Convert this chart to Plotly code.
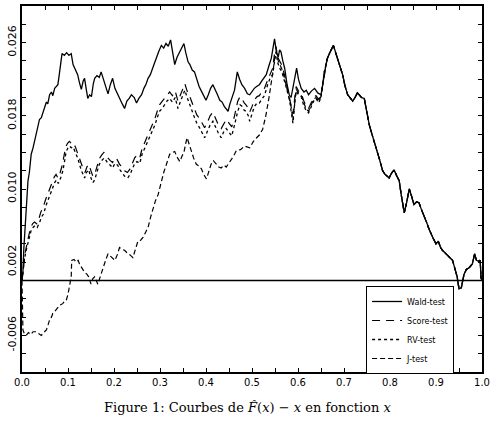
import plotly.graph_objects as go

# ---------------- data ----------------
wald_x = [0.000,0.002,0.004,0.006,0.009,0.013,0.016,0.020,0.024,0.027,0.031,0.035,0.038,0.042,0.046,0.049,
          0.053,0.056,0.060,0.064,0.067,0.071,0.075,0.078,0.081,0.084,0.087,0.092,0.097,0.102,0.107,0.111,
          0.116,0.121,0.125,0.129,0.133,0.136,0.140,0.143,0.147,0.151,0.155,0.158,0.163,0.168,0.172,0.176,
          0.180,0.184,0.187,0.192,0.197,0.202,0.208,0.213,0.218,0.223,0.228,0.233,0.238,0.244,0.249,0.254,
          0.260,0.265,0.270,0.274,0.279,0.284,0.288,0.292,0.297,0.303,0.308,0.313,0.318,0.323,0.327,0.332,
          0.337,0.343,0.347,0.352,0.356,0.361,0.365,0.370,0.375,0.380,0.385,0.390,0.395,0.400,0.405,0.410,
          0.415,0.420,0.425,0.430,0.435,0.440,0.444,0.448,0.452,0.456,0.462,0.465,0.468,0.473,0.478,0.484,
          0.490,0.495,0.500,0.505,0.510,0.516,0.521,0.526,0.531,0.537,0.542,0.546,0.549,0.553,0.557,0.560,
          0.563,0.567,0.571,0.576,0.581,0.585,0.590,0.594,0.597,0.601,0.607,0.613,0.618,0.623,0.629,0.636,
          0.643,0.650,0.654,0.657,0.661,0.664,0.668,0.672,0.677,0.681,0.686,0.690,0.697,0.702,0.708,0.713,
          0.719,0.724,0.729,0.733,0.738,0.744,0.748,0.751,0.755,0.759,0.764,0.768,0.773,0.778,0.784,0.789,
          0.794,0.798,0.803,0.809,0.814,0.820,0.824,0.828,0.831,0.836,0.842,0.847,0.852,0.858,0.863,0.868,
          0.874,0.880,0.885,0.889,0.894,0.900,0.905,0.910,0.914,0.920,0.925,0.930,0.936,0.941,0.946,0.950,
          0.955,0.961,0.966,0.972,0.979,0.984,0.988,0.993,0.996,0.998,1.000]
wald_y = [0.0000,0.0010,0.0035,0.0054,0.0075,0.0109,0.0118,0.0138,0.0145,0.0152,0.0160,0.0168,0.0176,0.0178,0.0185,0.0188,
          0.0195,0.0193,0.0203,0.0206,0.0202,0.0210,0.0213,0.0214,0.0225,0.0239,0.0248,0.0246,0.0249,0.0246,0.0248,0.0236,
          0.0231,0.0225,0.0216,0.0209,0.0218,0.0221,0.0208,0.0199,0.0203,0.0201,0.0215,0.0221,0.0224,0.0222,0.0228,0.0222,
          0.0214,0.0208,0.0204,0.0214,0.0221,0.0210,0.0203,0.0198,0.0193,0.0188,0.0196,0.0199,0.0203,0.0200,0.0194,0.0199,
          0.0203,0.0210,0.0215,0.0221,0.0225,0.0232,0.0238,0.0243,0.0250,0.0257,0.0254,0.0259,0.0256,0.0263,0.0250,0.0236,
          0.0244,0.0250,0.0254,0.0259,0.0249,0.0239,0.0236,0.0230,0.0228,0.0220,0.0212,0.0207,0.0201,0.0197,0.0203,0.0210,
          0.0214,0.0209,0.0203,0.0197,0.0195,0.0190,0.0188,0.0185,0.0193,0.0199,0.0208,0.0218,0.0228,0.0220,0.0214,0.0210,
          0.0204,0.0203,0.0207,0.0210,0.0212,0.0214,0.0218,0.0222,0.0225,0.0235,0.0243,0.0255,0.0264,0.0250,0.0244,0.0252,
          0.0250,0.0240,0.0232,0.0215,0.0203,0.0200,0.0212,0.0225,0.0232,0.0220,0.0210,0.0206,0.0208,0.0203,0.0207,0.0210,
          0.0205,0.0203,0.0215,0.0228,0.0236,0.0243,0.0248,0.0252,0.0257,0.0250,0.0243,0.0236,0.0225,0.0213,0.0203,0.0200,
          0.0196,0.0200,0.0205,0.0203,0.0200,0.0199,0.0188,0.0178,0.0170,0.0163,0.0155,0.0146,0.0138,0.0131,0.0120,0.0116,
          0.0114,0.0112,0.0117,0.0121,0.0115,0.0109,0.0095,0.0080,0.0074,0.0085,0.0100,0.0092,0.0083,0.0086,0.0085,0.0078,
          0.0071,0.0063,0.0056,0.0051,0.0046,0.0040,0.0043,0.0036,0.0033,0.0030,0.0028,0.0025,0.0022,0.0013,0.0004,-0.0009,
          -0.0008,0.0007,0.0012,0.0014,0.0018,0.0029,0.0022,0.0021,0.0022,0.0003,0.0000]

score_x = [0.000,0.003,0.007,0.011,0.015,0.019,0.023,0.027,0.032,0.037,0.041,0.046,0.051,0.056,0.061,0.066,
           0.070,0.074,0.078,0.083,0.088,0.092,0.095,0.099,0.103,0.107,0.111,0.116,0.120,0.125,0.129,0.133,
           0.137,0.141,0.145,0.150,0.154,0.158,0.163,0.168,0.173,0.178,0.183,0.188,0.192,0.197,0.202,0.207,
           0.212,0.218,0.223,0.229,0.235,0.240,0.245,0.250,0.256,0.261,0.267,0.272,0.278,0.284,0.289,0.294,
           0.299,0.305,0.310,0.315,0.321,0.327,0.333,0.339,0.344,0.349,0.354,0.359,0.364,0.370,0.375,0.380,
           0.386,0.391,0.397,0.403,0.409,0.415,0.420,0.426,0.433,0.438,0.444,0.450,0.456,0.462,0.466,0.469,
           0.474,0.479,0.483,0.487,0.492,0.495,0.500,0.505,0.511,0.516,0.521,0.527,0.534,0.540,0.545,0.549,
           0.552,0.556,0.560,0.565,0.571,0.576,0.581,0.585,0.589,0.593,0.596,0.601,0.607,0.612,0.618,0.623,
           0.629,0.634,0.639,0.645,0.650]
score_y = [0.0000,0.0016,0.0030,0.0041,0.0050,0.0058,0.0062,0.0064,0.0062,0.0068,0.0075,0.0080,0.0088,0.0095,0.0102,0.0109,
           0.0113,0.0116,0.0112,0.0118,0.0127,0.0138,0.0146,0.0150,0.0152,0.0150,0.0151,0.0146,0.0140,0.0133,0.0127,0.0122,
           0.0118,0.0124,0.0127,0.0119,0.0114,0.0116,0.0126,0.0133,0.0137,0.0140,0.0136,0.0133,0.0131,0.0129,0.0134,0.0132,
           0.0127,0.0124,0.0120,0.0118,0.0122,0.0128,0.0134,0.0137,0.0134,0.0144,0.0151,0.0157,0.0163,0.0170,0.0177,0.0185,
           0.0192,0.0196,0.0199,0.0203,0.0206,0.0202,0.0207,0.0196,0.0203,0.0209,0.0215,0.0207,0.0202,0.0194,0.0187,0.0181,
           0.0177,0.0172,0.0167,0.0173,0.0180,0.0184,0.0178,0.0171,0.0166,0.0171,0.0176,0.0172,0.0168,0.0180,0.0190,0.0196,
           0.0201,0.0198,0.0194,0.0192,0.0188,0.0184,0.0190,0.0197,0.0201,0.0202,0.0206,0.0210,0.0219,0.0226,0.0232,0.0248,
           0.0256,0.0244,0.0240,0.0235,0.0224,0.0212,0.0202,0.0192,0.0182,0.0200,0.0212,0.0207,0.0205,0.0197,0.0190,0.0188,
           0.0195,0.0200,0.0202,0.0198,0.0202]

rv_x = [0.000,0.002,0.005,0.009,0.013,0.017,0.020,0.024,0.028,0.033,0.038,0.042,0.047,0.053,0.058,0.064,
        0.068,0.071,0.075,0.079,0.084,0.089,0.093,0.096,0.100,0.103,0.107,0.111,0.116,0.121,0.125,0.129,
        0.133,0.136,0.140,0.145,0.150,0.154,0.158,0.163,0.168,0.173,0.179,0.183,0.187,0.192,0.197,0.202,
        0.208,0.213,0.218,0.223,0.230,0.235,0.240,0.245,0.250,0.256,0.261,0.267,0.272,0.278,0.284,0.289,
        0.294,0.299,0.305,0.310,0.315,0.321,0.327,0.333,0.339,0.344,0.349,0.354,0.359,0.364,0.370,0.375,
        0.380,0.386,0.391,0.397,0.403,0.409,0.415,0.420,0.426,0.433,0.438,0.444,0.450,0.456,0.462,0.466,
        0.469,0.474,0.479,0.483,0.487,0.492,0.495,0.500,0.505,0.511,0.516,0.521,0.527,0.534,0.540,0.545,
        0.549,0.552,0.556,0.560,0.565,0.571,0.576,0.581,0.585,0.589,0.593,0.596,0.601,0.607,0.612,0.618,
        0.623,0.629,0.634,0.639,0.645,0.650]
rv_y = [0.0000,0.0011,0.0022,0.0033,0.0042,0.0051,0.0055,0.0058,0.0060,0.0058,0.0063,0.0069,0.0073,0.0083,0.0090,0.0098,
        0.0104,0.0107,0.0110,0.0106,0.0112,0.0120,0.0132,0.0141,0.0145,0.0147,0.0145,0.0146,0.0140,0.0134,0.0127,0.0120,
        0.0116,0.0112,0.0118,0.0121,0.0112,0.0107,0.0110,0.0120,0.0127,0.0131,0.0134,0.0131,0.0128,0.0126,0.0123,0.0128,
        0.0126,0.0121,0.0118,0.0114,0.0112,0.0116,0.0122,0.0128,0.0130,0.0128,0.0138,0.0145,0.0150,0.0156,0.0163,0.0170,
        0.0178,0.0185,0.0188,0.0192,0.0196,0.0199,0.0195,0.0200,0.0188,0.0195,0.0201,0.0208,0.0200,0.0194,0.0185,0.0178,
        0.0172,0.0167,0.0162,0.0156,0.0163,0.0170,0.0174,0.0168,0.0162,0.0156,0.0162,0.0166,0.0162,0.0158,0.0170,0.0180,
        0.0185,0.0192,0.0190,0.0186,0.0185,0.0180,0.0174,0.0182,0.0190,0.0194,0.0194,0.0198,0.0202,0.0214,0.0222,0.0225,
        0.0240,0.0250,0.0238,0.0232,0.0228,0.0217,0.0208,0.0199,0.0185,0.0172,0.0195,0.0207,0.0203,0.0201,0.0192,0.0185,
        0.0183,0.0190,0.0196,0.0199,0.0194,0.0200]

j_x = [0.000,0.001,0.002,0.005,0.009,0.014,0.019,0.024,0.031,0.036,0.042,0.047,0.053,0.057,0.060,0.064,
       0.067,0.071,0.075,0.078,0.082,0.086,0.089,0.092,0.096,0.100,0.103,0.106,0.107,0.108,0.113,0.118,
       0.122,0.125,0.130,0.136,0.141,0.145,0.150,0.154,0.158,0.162,0.165,0.170,0.174,0.179,0.183,0.187,
       0.192,0.197,0.202,0.207,0.212,0.218,0.223,0.229,0.235,0.241,0.246,0.252,0.258,0.263,0.268,0.274,
       0.280,0.285,0.290,0.296,0.300,0.303,0.308,0.314,0.318,0.321,0.327,0.332,0.337,0.343,0.348,0.352,
       0.356,0.359,0.364,0.368,0.373,0.379,0.385,0.390,0.395,0.401,0.406,0.411,0.416,0.422,0.428,0.433,
       0.439,0.444,0.450,0.456,0.462,0.466,0.475,0.484,0.495,0.503,0.510,0.516,0.523,0.530,0.537,0.542,
       0.546,0.550,0.553,0.557,0.561,0.566,0.571,0.576,0.581,0.585,0.589,0.593,0.596,0.601,0.607,0.612,
       0.618,0.623,0.629,0.634,0.639,0.645,0.650]
j_y = [0.0000,-0.0036,-0.0054,-0.0058,-0.0060,-0.0057,-0.0059,-0.0056,-0.0056,-0.0058,-0.0060,-0.0057,-0.0054,-0.0048,-0.0043,-0.0040,
       -0.0036,-0.0034,-0.0031,-0.0029,-0.0027,-0.0026,-0.0025,-0.0023,-0.0022,-0.0015,-0.0007,0.0000,0.0004,0.0022,0.0023,0.0020,
       0.0022,0.0018,0.0014,0.0009,0.0007,0.0004,-0.0004,0.0002,0.0004,-0.0001,-0.0004,0.0004,0.0011,0.0018,0.0024,0.0029,
       0.0027,0.0025,0.0022,0.0028,0.0036,0.0034,0.0033,0.0030,0.0028,0.0025,0.0034,0.0043,0.0044,0.0047,0.0052,0.0058,
       0.0070,0.0080,0.0087,0.0094,0.0102,0.0109,0.0118,0.0127,0.0133,0.0138,0.0140,0.0141,0.0135,0.0130,0.0136,0.0140,
       0.0150,0.0156,0.0148,0.0141,0.0134,0.0127,0.0125,0.0122,0.0116,0.0111,0.0120,0.0127,0.0131,0.0128,0.0124,0.0123,
       0.0126,0.0124,0.0128,0.0133,0.0138,0.0142,0.0143,0.0147,0.0145,0.0152,0.0156,0.0159,0.0165,0.0180,0.0200,0.0215,
       0.0230,0.0245,0.0250,0.0240,0.0236,0.0230,0.0220,0.0210,0.0201,0.0190,0.0175,0.0198,0.0209,0.0205,0.0202,0.0195,
       0.0187,0.0185,0.0192,0.0198,0.0200,0.0196,0.0201]

series_names = ["Wald-test", "Score-test", "RV-test", "J-test"]
x_tick_vals = [0.0, 0.1, 0.2, 0.3, 0.4, 0.5, 0.6, 0.7, 0.8, 0.9, 1.0]
x_tick_text = ["0.0", "0.1", "0.2", "0.3", "0.4", "0.5", "0.6", "0.7", "0.8", "0.9", "1.0"]
y_tick_vals = [-0.006, 0.002, 0.010, 0.018, 0.026]
y_tick_text = ["-0.006", "0.002", "0.010", "0.018", "0.026"]
caption = "Figure 1: Courbes de <i>F\u0302</i>(<i>x</i>) \u2212 <i>x</i> en fonction <i>x</i>"

# after x ~ 0.65 all four curves coincide with the Wald curve
tail = [(x, y) for x, y in zip(wald_x, wald_y) if x > 0.651]
tail_x = [p[0] for p in tail]
tail_y = [p[1] for p in tail]

fig = go.Figure()
styles = [("solid", 1.3), ("8px,6px", 1.2), ("dot", 1.3), ("5px,3px", 1.2)]
data = [(wald_x, wald_y), (score_x + tail_x, score_y + tail_y),
        (rv_x + tail_x, rv_y + tail_y), (j_x + tail_x, j_y + tail_y)]
for name, (xs, ys), (dash, w) in zip(series_names, data, styles):
    fig.add_trace(go.Scatter(x=xs, y=ys, mode="lines", name=name,
                             line=dict(color="black", width=w, dash=dash)))

fig.add_shape(type="line", xref="x", yref="y", x0=0, x1=1, y0=0, y1=0,
              line=dict(color="black", width=1.6))

axis_common = dict(showline=True, linecolor="black", linewidth=1.5, mirror="ticks",
                   ticks="inside", ticklen=4, tickcolor="black", tickwidth=1,
                   showgrid=False, zeroline=False)

fig.update_xaxes(range=[0, 1], tickvals=x_tick_vals, ticktext=x_tick_text,
                 tickfont=dict(family="DejaVu Sans", size=10, color="black"),
                 minor=dict(tickvals=[0.05, 0.15, 0.25, 0.35, 0.45, 0.55, 0.65, 0.75, 0.85, 0.95],
                            ticks="inside", ticklen=4, tickcolor="black"),
                 **axis_common)
fig.update_yaxes(range=[-0.010, 0.030], tickvals=y_tick_vals, ticktext=y_tick_text,
                 tickangle=-90,
                 tickfont=dict(family="DejaVu Sans", size=11, color="black"),
                 minor=dict(dtick=0.002, tick0=0, ticks="inside", ticklen=4, tickcolor="black"),
                 **axis_common)

fig.add_annotation(text=caption, xref="paper", yref="paper", x=0.49, y=-0.098,
                   xanchor="center", yanchor="middle", showarrow=False,
                   font=dict(family="DejaVu Serif", size=13, color="black"))

fig.update_layout(
    width=494, height=429,
    margin=dict(l=22, r=11, t=4, b=57),
    paper_bgcolor="white", plot_bgcolor="white",
    showlegend=True,
    legend=dict(x=0.748, y=0.235, xanchor="left", yanchor="top",
                bgcolor="white", bordercolor="black", borderwidth=1,
                font=dict(family="DejaVu Sans", size=8, color="black"),
                itemwidth=30, tracegroupgap=0,
                entrywidth=75, entrywidthmode="pixels"),
)

fig.write_html("out.html")
